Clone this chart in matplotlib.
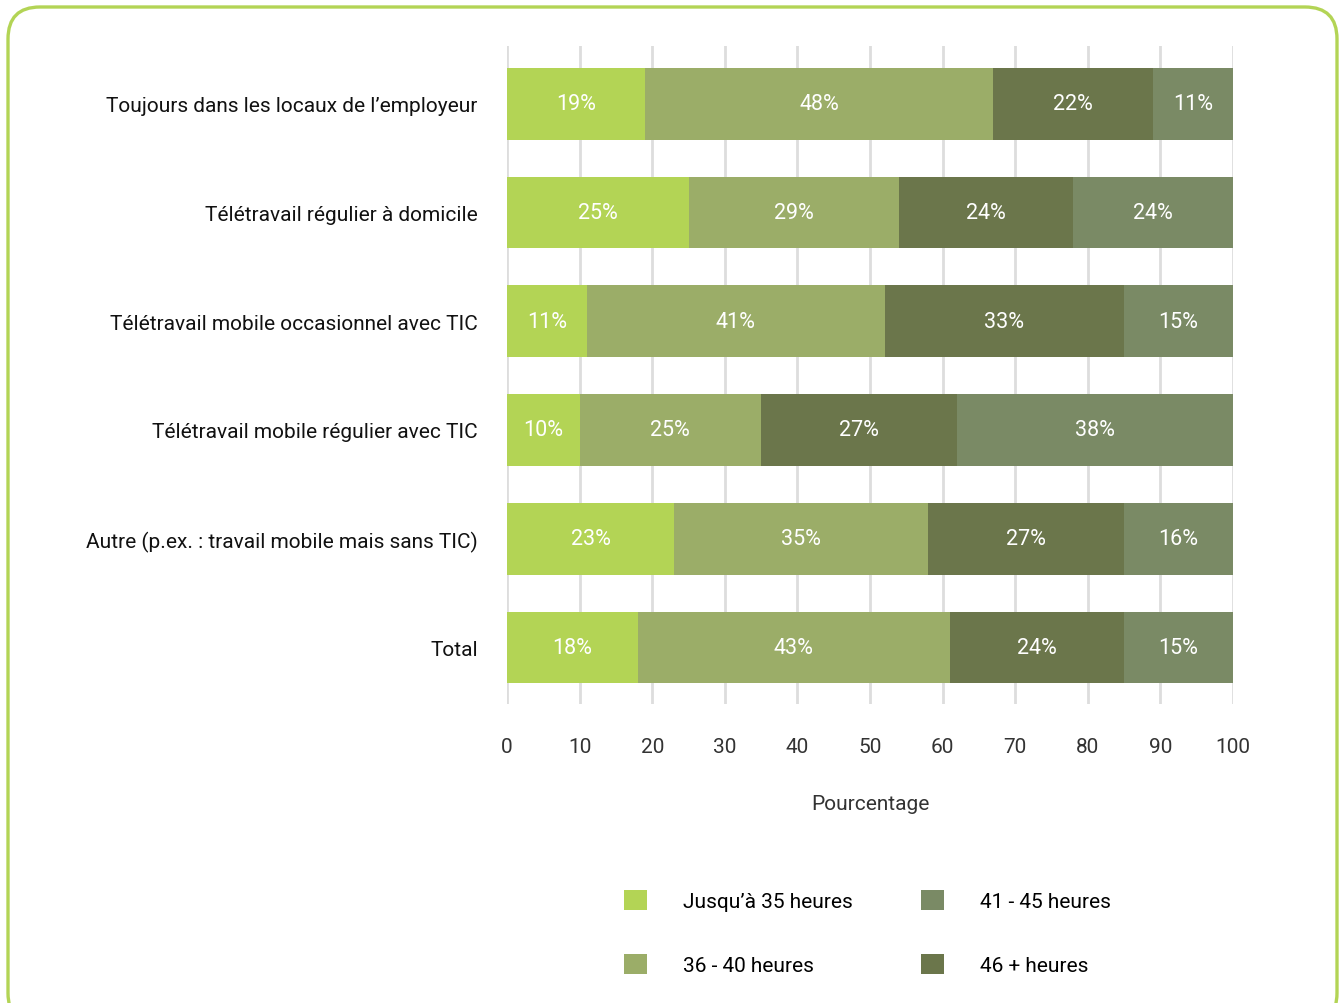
import matplotlib.pyplot as plt
from matplotlib.patches import FancyBboxPatch, Patch
from matplotlib.transforms import IdentityTransform

plt.rcParams['font.family'] = ['Roboto', 'DejaVu Sans']

categories = [
    "Toujours dans les locaux de l\u2019employeur",
    "Télétravail régulier à domicile",
    "Télétravail mobile occasionnel avec TIC",
    "Télétravail mobile régulier avec TIC",
    "Autre (p.ex. : travail mobile mais sans TIC)",
    "Total",
]
# stacking order as drawn in the bars
jusqu35 = [19, 25, 11, 10, 23, 18]
h36_40 = [48, 29, 41, 25, 35, 43]
h46_plus = [22, 24, 33, 27, 27, 24]
h41_45 = [11, 24, 15, 38, 16, 15]

series = [
    ("Jusqu\u2019à 35 heures", jusqu35, "#b3d455"),
    ("36 - 40 heures", h36_40, "#9bad68"),
    ("46 + heures", h46_plus, "#6b764b"),
    ("41 - 45 heures", h41_45, "#7a8a65"),
]

fig = plt.figure(figsize=(13.4, 10.04), dpi=100)

# rounded green frame (display coords, origin bottom-left; bottom edge runs off the page)
frame = FancyBboxPatch((8, -22), 1329, 1018, boxstyle="round,pad=0,rounding_size=32",
                       transform=IdentityTransform(), facecolor="white",
                       edgecolor="#b3d455", linewidth=2.4, zorder=-10)
fig.patches.append(frame)

ax = fig.add_axes([507 / 1340, 1 - 705 / 1004, 726 / 1340, 658 / 1004])
ax.set_facecolor("none")

y = list(range(len(categories)))
left = [0] * len(categories)
for name, vals, col in series:
    bars = ax.barh(y, vals, left=left, height=0.66, color=col, label=name, zorder=2)
    ax.bar_label(bars, labels=[f"{v}%" for v in vals], label_type="center",
                 color="white", fontsize=15.5)
    left = [a + b for a, b in zip(left, vals)]

ax.set_xlim(0, 100)
ax.set_ylim(len(categories) - 0.48, -0.53)
ax.set_xticks(range(0, 101, 10))
ax.set_yticks(y)
ax.set_yticklabels(categories, fontsize=15, color="#111111")
ax.tick_params(axis="y", length=0, pad=21)
ax.tick_params(axis="x", length=0, pad=24, labelsize=15, labelcolor="#333333")
ax.grid(axis="x", color="#dddddd", linewidth=2, zorder=0)
for s in ax.spines.values():
    s.set_visible(False)
ax.set_xlabel("Pourcentage", fontsize=15, color="#333333", labelpad=27)

handles = {name: Patch(facecolor=col) for name, _, col in series}
leg_kw = dict(frameon=False, fontsize=15, handlelength=1.06, handleheight=1.06,
              handletextpad=1.75, labelspacing=2.07, borderpad=0, loc="upper left")
col1 = ["Jusqu\u2019à 35 heures", "36 - 40 heures"]
col2 = ["41 - 45 heures", "46 + heures"]
fig.legend([handles[n] for n in col1], col1, bbox_to_anchor=(614 / 1340, 1 - 881 / 1004), **leg_kw)
fig.legend([handles[n] for n in col2], col2, bbox_to_anchor=(911 / 1340, 1 - 881 / 1004), **leg_kw)

fig.savefig("out.png", dpi=100)
